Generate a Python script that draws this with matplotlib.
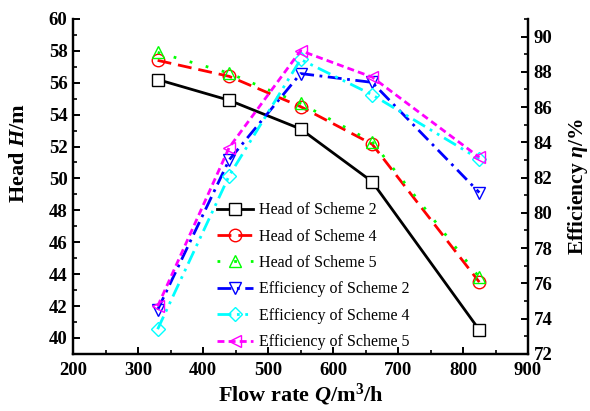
import matplotlib
matplotlib.use("Agg")
import matplotlib.pyplot as plt

plt.rcParams['font.family'] = 'Liberation Serif'
plt.rcParams['mathtext.fontset'] = 'custom'
plt.rcParams['mathtext.rm'] = 'Liberation Serif:bold'
plt.rcParams['mathtext.it'] = 'Liberation Serif:italic:bold'
plt.rcParams['mathtext.bf'] = 'Liberation Serif:bold'

# data
flow = [330, 440, 550, 660, 825]
head_s2 = [56.2, 54.9, 53.1, 49.8, 40.5]
head_s4 = [57.4, 56.4, 54.5, 52.15, 43.5]
head_s5 = [57.9, 56.6, 54.7, 52.3, 43.8]
eff_s2 = [74.5, 83.0, 87.9, 87.4, 81.15]
eff_s4 = [73.4, 82.1, 88.7, 86.7, 83.05]
eff_s5 = [74.7, 83.7, 89.2, 87.7, 83.15]

fig = plt.figure(figsize=(5.9, 4.11), dpi=100)
ax = fig.add_axes([0.124, 0.139, 0.771, 0.815])
ax2 = ax.twinx()

ms = 9
mew = 1.0
lw = 2.0

l1, = ax.plot(flow, head_s2, color='black', ls='-', lw=lw, marker='s', ms=ms,
              mfc='white', mec='black', mew=mew, label='Head of Scheme 2')
l2, = ax.plot(flow, head_s4, color='red', ls=(0, (5, 2.5)), lw=lw, marker='o', ms=ms,
              mfc='none', mec='red', mew=mew, label='Head of Scheme 4')
l3, = ax.plot(flow, head_s5, color='#00ff00', ls=(0, (1, 5)), lw=lw, marker='^', ms=ms,
              mfc='none', mec='#00ff00', mew=mew, label='Head of Scheme 5')
l4, = ax2.plot(flow, eff_s2, color='blue', ls=(0, (5, 2, 1, 2)), lw=lw, marker='v', ms=ms,
               mfc='none', mec='blue', mew=mew, label='Efficiency of Scheme 2')
l5, = ax2.plot(flow, eff_s4, color='cyan', ls=(0, (5, 2, 1, 2, 1, 2)), lw=lw, marker='D', ms=7.5,
               mfc='none', mec='cyan', mew=mew, label='Efficiency of Scheme 4')
l6, = ax2.plot(flow, eff_s5, color='magenta', ls=(0, (2.5, 1.5)), lw=lw, marker='<', ms=ms,
               mfc='none', mec='magenta', mew=mew, label='Efficiency of Scheme 5')

ax.set_xlim(200, 900)
ax.set_ylim(39, 60)
ax2.set_ylim(72, 91)
ax.set_xticks(range(200, 901, 100))
ax.set_xticks(range(250, 900, 100), minor=True)
ax.set_yticks(range(40, 61, 2))
ax.set_yticks(range(39, 60, 2), minor=True)
ax2.set_yticks(range(72, 91, 2))
ax2.set_yticks(range(73, 92, 2), minor=True)

for a in (ax, ax2):
    a.spines['top'].set_visible(False)
    for s in a.spines.values():
        s.set_linewidth(1.6)
    a.tick_params(which='major', direction='in', length=5, width=1.4, labelsize=13.5)
    a.tick_params(which='minor', direction='in', length=3, width=1.2)
    for t in a.get_xticklabels() + a.get_yticklabels():
        t.set_fontweight('bold')

ax.tick_params(axis='y', right=False, which='both', pad=4)
ax.tick_params(axis='x', pad=6)
ax2.tick_params(axis='y', left=False, which='both', pad=4)

ax.set_xlabel('Flow rate $\\mathit{Q}$/m$^3$/h', fontsize=16, fontweight='bold', labelpad=2)
ax.set_ylabel('Head $\\mathit{H}$/m', fontsize=16, fontweight='bold')
ax2.set_ylabel('Efficiency $\\mathit{\\eta}$/%', fontsize=15.5, fontweight='bold')
ax.yaxis.set_label_coords(-0.097, 0.6)
ax2.yaxis.set_label_coords(1.084, 0.5)

ax.legend(handles=[l1, l2, l3, l4, l5, l6], loc='lower left', bbox_to_anchor=(0.316, 0.011),
          frameon=False, fontsize=11.5, handlelength=2.25, handletextpad=0.37,
          labelspacing=0.65, borderaxespad=0.0, borderpad=0.0)

fig.savefig('out.png', dpi=100)
